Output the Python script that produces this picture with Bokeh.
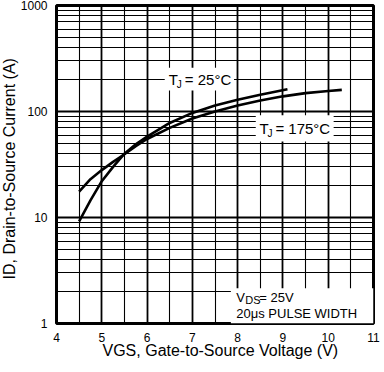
from bokeh.plotting import figure
from bokeh.models import FixedTicker, Label, BoxAnnotation, PrintfTickFormatter, Range1d
from bokeh.embed import file_html
from bokeh.resources import INLINE
import math

# ---- data ----
vgs_25 = [4.5, 4.75, 5.0, 5.25, 5.5, 5.75, 6.0, 6.5, 7.0, 7.5, 8.0, 8.5, 9.1]
id_25 = [9.2, 14.5, 22, 30, 40, 49, 58, 78, 97, 114, 129, 144, 162]

vgs_175 = [4.5, 4.75, 5.0, 5.25, 5.5, 5.75, 6.0, 6.5, 7.0, 7.5, 8.0, 8.5, 9.0, 9.5, 10.0, 10.3]
id_175 = [17.5, 23, 28, 33.5, 39.5, 47, 55, 70, 86, 100, 114, 127, 139, 149, 156, 160]

x_ticks = [4, 5, 6, 7, 8, 9, 10, 11]
x_minor = [4.5, 5.5, 6.5, 7.5, 8.5, 9.5, 10.5]
y_ticks = [1, 10, 100, 1000]
y_minor = [2, 3, 4, 5, 6, 7, 8, 9, 20, 30, 40, 50, 60, 70, 80, 90,
           200, 300, 400, 500, 600, 700, 800, 900]

x_title = "VGS, Gate-to-Source Voltage (V)"
y_title = "ID, Drain-to-Source Current (A)"

FONT = "Liberation Sans"

p = figure(width=384, height=372, x_range=Range1d(4, 11), y_range=Range1d(1, 1000),
           y_axis_type="log", output_backend="svg", toolbar_location=None,
           min_border_left=54, min_border_right=11, min_border_top=5, min_border_bottom=49)

p.background_fill_color = "white"
p.border_fill_color = "white"
p.outline_line_color = "black"
p.outline_line_width = 3

xt = FixedTicker(ticks=x_ticks, minor_ticks=x_minor)
yt = FixedTicker(ticks=y_ticks, minor_ticks=y_minor)
p.xaxis.ticker = xt
p.yaxis.ticker = yt
p.xgrid.ticker = xt
p.ygrid.ticker = yt
p.xaxis.formatter = PrintfTickFormatter(format="%d")
p.yaxis.formatter = PrintfTickFormatter(format="%d")

for g in (p.xgrid, p.ygrid):
    g.grid_line_color = "black"
    g.grid_line_width = 1.8
    g.grid_line_alpha = 1
    g.minor_grid_line_color = "black"
    g.minor_grid_line_width = 1.1

for ax in (p.xaxis, p.yaxis):
    ax.axis_line_color = None
    ax.major_tick_line_color = None
    ax.minor_tick_line_color = None
    ax.major_tick_in = 0
    ax.major_tick_out = 0
    ax.minor_tick_in = 0
    ax.minor_tick_out = 0
    ax.major_label_text_font = FONT
    ax.major_label_text_font_size = "12px"
    ax.major_label_text_color = "black"
p.xaxis.major_label_standoff = 9
p.yaxis.major_label_standoff = 9

# curves
p.line(vgs_25, id_25, line_color="black", line_width=2.6)
p.line(vgs_175, id_175, line_color="black", line_width=2.6)

# white boxes behind annotations
for l, r, b, t in [(6.39, 7.92, 158, 258), (8.4, 10.12, 52, 92), (7.85, 11, 1, 2.15)]:
    p.add_layout(BoxAnnotation(left=l, right=r, bottom=b, top=t,
                               fill_color="white", fill_alpha=1, line_color=None))

def lab(x, y, text, size, xo=0, yo=0, angle=0, baseline="middle", units="data",
        place="center"):
    p.add_layout(Label(x=x, y=y, x_offset=xo, y_offset=yo, text=text, angle=angle,
                       text_font=FONT, text_font_size=size, text_color="black",
                       text_align="left", text_baseline=baseline,
                       x_units=units, y_units=units), place)

# T_J = 25 °C
lab(6.48, 200, "T", "15px")
lab(6.48, 200, "J", "10px", xo=8, yo=-5)
lab(6.48, 200, "= 25°C", "15px", xo=16)
# T_J = 175 °C
lab(8.48, 69, "T", "15px")
lab(8.48, 69, "J", "10px", xo=8, yo=-5)
lab(8.48, 69, "= 175°C", "15px", xo=16)
# V_DS = 25V
lab(7.97, 1.76, "V", "13px")
lab(7.97, 1.76, "DS", "11px", xo=9, yo=-3)
lab(7.97, 1.76, "= 25V", "13px", xo=23)
lab(7.97, 1.24, "20μs PULSE WIDTH", "13px")

# axis titles in the side panels
lab(46, 11, x_title, "16px", baseline="alphabetic", units="screen", place="below")
lab(9, 44, y_title, "16px", angle=math.pi / 2, baseline="alphabetic",
    units="screen", place="left")

open("out.html", "w").write(file_html(p, INLINE))
